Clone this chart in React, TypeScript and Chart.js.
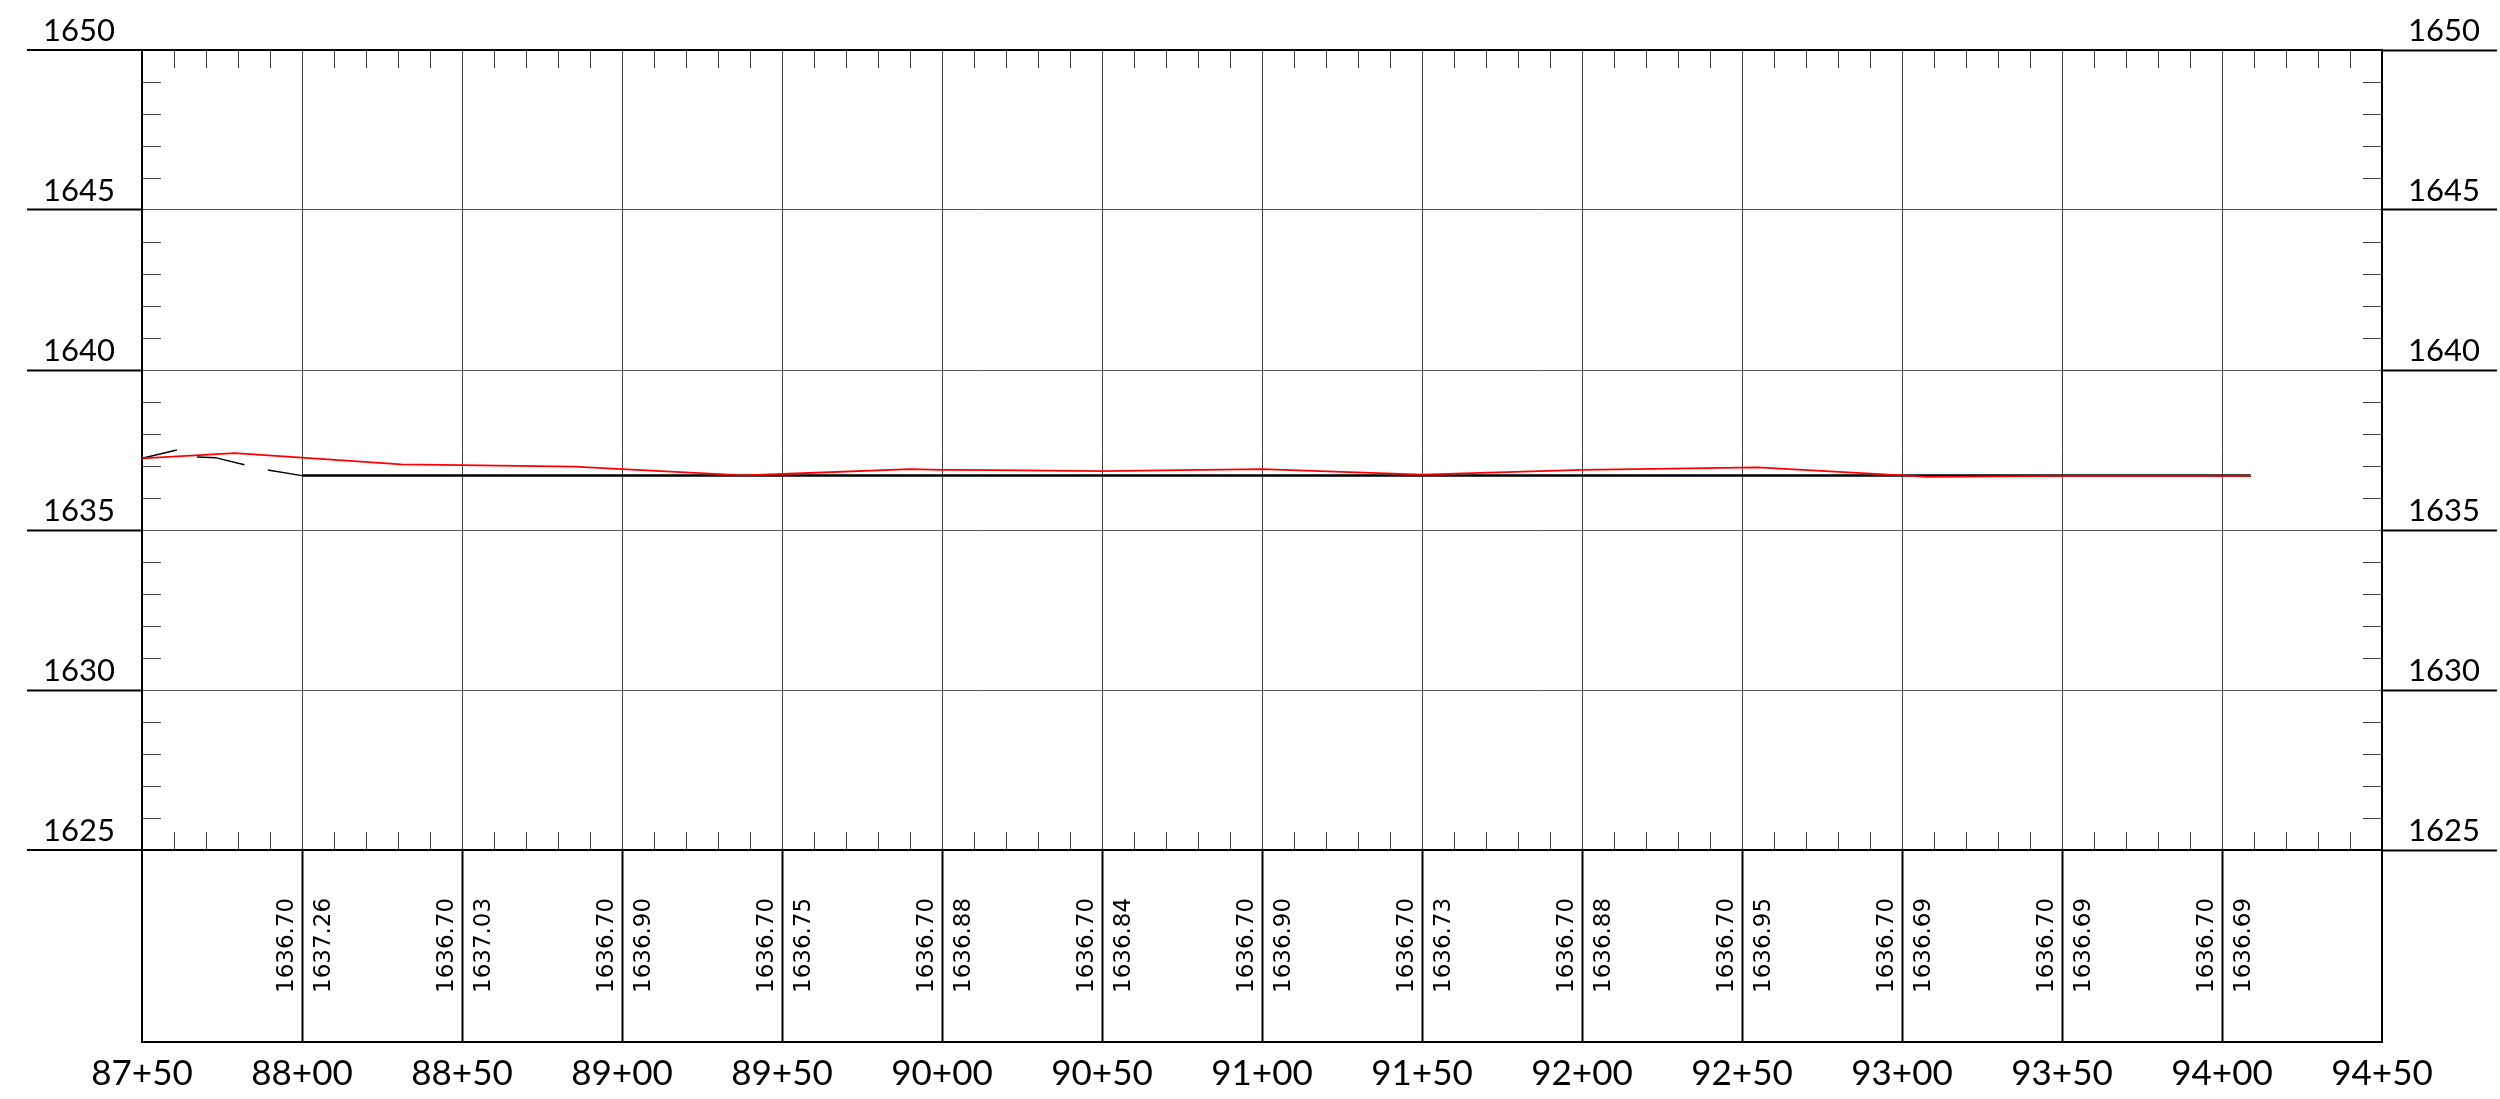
import React, { useEffect, useRef } from "react";
import { Chart, registerables } from "chart.js";

Chart.register(...registerables);

// Station range (feet) and elevation range
const stationMin = 8750;
const stationMax = 9450;
const elevMin = 1625;
const elevMax = 1650;

// Stations shown in the bottom table
const tableStations = [8800, 8850, 8900, 8950, 9000, 9050, 9100, 9150, 9200, 9250, 9300, 9350, 9400];
const designLabels = ["1636.70", "1636.70", "1636.70", "1636.70", "1636.70", "1636.70", "1636.70", "1636.70", "1636.70", "1636.70", "1636.70", "1636.70", "1636.70"];
const groundLabels = ["1637.26", "1637.03", "1636.90", "1636.75", "1636.88", "1636.84", "1636.90", "1636.73", "1636.88", "1636.95", "1636.69", "1636.69", "1636.69"];

// Existing ground (red) profile
const groundStations = [8750, 8779, 8800, 8831, 8850, 8885, 8900, 8938, 8950, 8990, 9000, 9016, 9050, 9100, 9150, 9200, 9255, 9300, 9308, 9350, 9400, 9409];
const groundElev = [1637.24, 1637.40, 1637.26, 1637.05, 1637.03, 1636.98, 1636.90, 1636.71, 1636.75, 1636.90, 1636.88, 1636.87, 1636.84, 1636.90, 1636.73, 1636.88, 1636.96, 1636.71, 1636.66, 1636.69, 1636.69, 1636.69];

// Proposed grade (black, solid)
const designStations = [8800, 9409];
const designElev = [1636.70, 1636.70];

// Proposed grade lead-in (black, broken segments; null = gap)
const leadStations = [8750, 8760.9, 8764, 8767.2, 8772.9, 8782, 8785, 8789.3, 8800];
const leadElev: (number | null)[] = [1637.24, 1637.50, null, 1637.28, 1637.26, 1637.04, null, 1636.875, 1636.70];

const fmtStation = (v: number) => `${Math.floor(v / 100)}+${String(Math.round(v % 100)).padStart(2, "0")}`;

const decorPlugin = {
  id: "decor",
  afterDraw(chart: any) {
    const { ctx, chartArea, scales } = chart;
    const x = scales.x;
    const y = scales.y;
    const { left, right, top, bottom } = chartArea;
    const tableBottom = bottom + 192;
    ctx.save();
    // minor elevation ticks
    ctx.strokeStyle = "#444";
    ctx.lineWidth = 1;
    ctx.beginPath();
    for (let v = elevMin + 1; v < elevMax; v++) {
      if (v % 5 === 0) continue;
      const py = Math.round(y.getPixelForValue(v)) + 0.5;
      ctx.moveTo(left, py);
      ctx.lineTo(left + 19, py);
      ctx.moveTo(right - 19, py);
      ctx.lineTo(right, py);
    }
    // minor station ticks
    for (let s = stationMin + 10; s < stationMax; s += 10) {
      if (s % 50 === 0) continue;
      const px = Math.round(x.getPixelForValue(s)) + 0.5;
      ctx.moveTo(px, top);
      ctx.lineTo(px, top + 18);
      ctx.moveTo(px, bottom - 18);
      ctx.lineTo(px, bottom);
    }
    ctx.stroke();
    // table bottom border
    ctx.strokeStyle = "#000";
    ctx.lineWidth = 2;
    ctx.beginPath();
    ctx.moveTo(left - 1, tableBottom);
    ctx.lineTo(right + 1, tableBottom);
    ctx.stroke();
    // rotated table values
    ctx.fillStyle = "#000";
    ctx.font = '23px "DejaVu Sans"';
    ctx.textAlign = "left";
    ctx.textBaseline = "alphabetic";
    tableStations.forEach((s, i) => {
      const px = x.getPixelForValue(s);
      ctx.save();
      ctx.translate(px, tableBottom - 49);
      ctx.rotate(-Math.PI / 2);
      ctx.fillText(designLabels[i], 0, -9);
      ctx.fillText(groundLabels[i], 0, 28);
      ctx.restore();
    });
    ctx.restore();
  },
};

export default function App() {
  const ref = useRef<HTMLCanvasElement | null>(null);
  useEffect(() => {
    const canvas = ref.current;
    if (!canvas) return;
    const edgeX = (v: number) => v === stationMin || v === stationMax;
    const edgeY = (v: number) => v === elevMin || v === elevMax;
    const chart = new Chart(canvas, {
      type: "line",
      data: {
        datasets: [
          {
            label: "Existing",
            data: groundStations.map((s, i) => ({ x: s, y: groundElev[i] })),
            borderColor: "#ff0000",
            borderWidth: 1.8,
            pointRadius: 0,
            tension: 0,
          },
          {
            label: "Proposed",
            data: designStations.map((s, i) => ({ x: s, y: designElev[i] })),
            borderColor: "#000000",
            borderWidth: 2.5,
            pointRadius: 0,
          },
          {
            label: "Lead",
            data: leadStations.map((s, i) => ({ x: s, y: leadElev[i] })),
            borderColor: "#000000",
            borderWidth: 1.4,
            pointRadius: 0,
            spanGaps: false,
          },
        ],
      },
      options: {
        animation: false,
        responsive: false,
        devicePixelRatio: 1,
        layout: { padding: { top: 50, left: 0, right: 0, bottom: 0 } },
        plugins: { legend: { display: false }, tooltip: { enabled: false } },
        scales: {
          x: {
            type: "linear",
            position: "bottom",
            min: stationMin,
            max: stationMax,
            afterFit: (s: any) => {
              s.height = 249;
            },
            ticks: {
              stepSize: 50,
              autoSkip: false,
              maxRotation: 0,
              padding: 11,
              color: "#000",
              font: { family: "Lato", size: 35 },
              callback: (v: any) => fmtStation(Number(v)),
            },
            grid: {
              color: (c: any) => (edgeX(c.tick?.value) ? "#000" : "#444"),
              lineWidth: (c: any) => (edgeX(c.tick?.value) ? 2 : 1),
              tickLength: 192,
              tickColor: "#000",
              tickWidth: 2,
            },
            border: { display: true, color: "#000", width: 2 },
          },
          y: {
            type: "linear",
            position: "left",
            min: elevMin,
            max: elevMax,
            afterFit: (s: any) => {
              s.width = 142;
            },
            ticks: {
              stepSize: 5,
              autoSkip: false,
              padding: -88,
              labelOffset: -19,
              color: "#000",
              font: { family: "Lato", size: 31 },
              callback: (v: any) => String(v),
            },
            grid: {
              color: (c: any) => (edgeY(c.tick?.value) ? "#000" : "#555"),
              lineWidth: (c: any) => (edgeY(c.tick?.value) ? 2 : 1),
              tickLength: 115,
              tickColor: "#000",
              tickWidth: 2,
            },
            border: { display: true, color: "#000", width: 2 },
          },
          y2: {
            type: "linear",
            position: "right",
            min: elevMin,
            max: elevMax,
            afterFit: (s: any) => {
              s.width = 118;
            },
            ticks: {
              stepSize: 5,
              autoSkip: false,
              padding: -89,
              labelOffset: -19,
              color: "#000",
              font: { family: "Lato", size: 31 },
              callback: (v: any) => String(v),
            },
            grid: {
              drawOnChartArea: false,
              tickLength: 115,
              tickColor: "#000",
              tickWidth: 2,
            },
            border: { display: true, color: "#000", width: 2 },
          },
        },
      },
      plugins: [decorPlugin],
    });
    return () => chart.destroy();
  }, []);
  return (
    <div style={{ position: "fixed", left: 0, top: 0, width: 2500, height: 1099, background: "#fff" }}>
      <canvas ref={ref} width={2500} height={1099} style={{ display: "block" }} />
    </div>
  );
}
